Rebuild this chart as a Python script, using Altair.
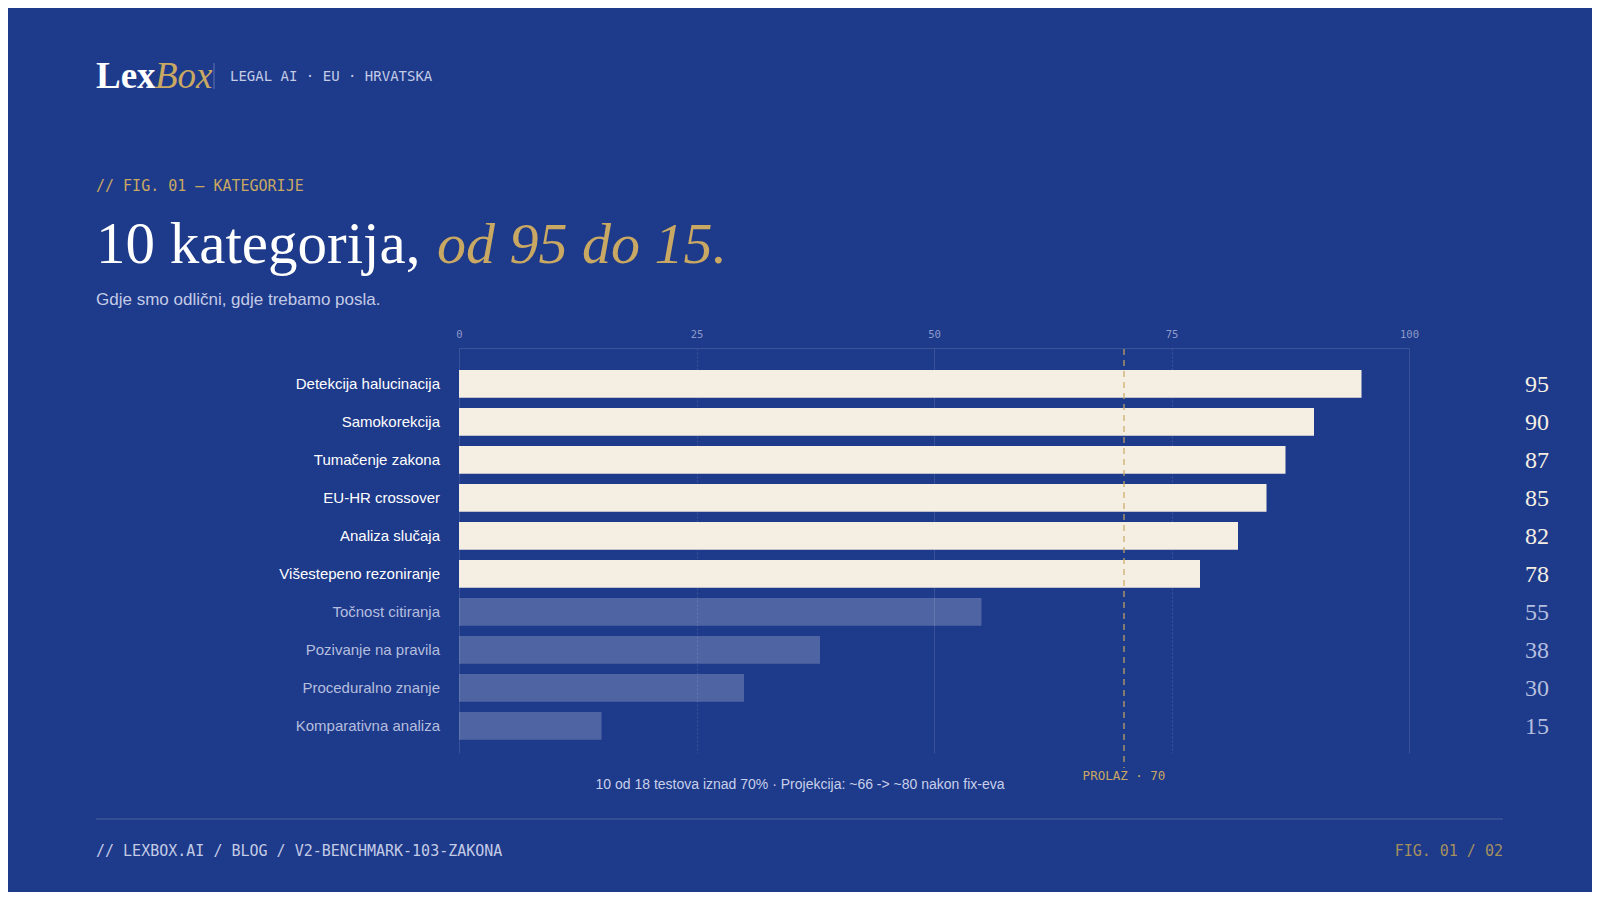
import altair as alt
import pandas as pd

# ---- data ----
categories = [
    "Detekcija halucinacija", "Samokorekcija", "Tumačenje zakona", "EU-HR crossover",
    "Analiza slučaja", "Višestepeno rezoniranje", "Točnost citiranja",
    "Pozivanje na pravila", "Proceduralno znanje", "Komparativna analiza",
]
scores = [95, 90, 87, 85, 82, 78, 55, 38, 30, 15]
pass_mark = 70
axis_ticks = [0, 25, 50, 75, 100]

brand_a = "Lex"
brand_b = "Box"
brand_tag = "LEGAL AI · EU · HRVATSKA"
kicker = "// FIG. 01 — KATEGORIJE"
title_a = "10 kategorija,"
title_b = "od 95 do 15."
subtitle = "Gdje smo odlični, gdje trebamo posla."
caption = "10 od 18 testova iznad 70% · Projekcija: ~66 -> ~80 nakon fix-eva"
pass_label = "PROLAZ · 70"
footer_left = "// LEXBOX.AI / BLOG / V2-BENCHMARK-103-ZAKONA"
footer_right = "FIG. 01 / 02"

# ---- style ----
BG = "#1e3a8a"
CREAM = "#f5efe3"
GOLD = "#c8a862"
FADED = "#b5bedf"
SERIF = "Georgia, 'Liberation Serif', serif"
SANS = "'Helvetica Neue', Helvetica, Arial, 'Liberation Sans', sans-serif"
MONO = "'DejaVu Sans Mono', 'Liberation Mono', monospace"

W, H = 950, 405
OX, OY = 459, 348  # plot origin on page

df = pd.DataFrame({"category": categories, "score": scores})
df["tier"] = ["strong" if s >= pass_mark else "weak" for s in scores]

yscale = alt.Scale(domain=categories, paddingInner=0.27, paddingOuter=0.464, align=0.623)
xscale = alt.Scale(domain=[0, 100], nice=False)

base = alt.Chart(df)

bars = base.mark_bar().encode(
    x=alt.X("score:Q", scale=xscale,
            axis=alt.Axis(orient="top", values=axis_ticks, title=None, ticks=False, tickSize=0,
                          labelPadding=9, labelFont=MONO, labelFontSize=10.5, labelColor="#8e9acb",
                          domain=True, domainColor="#3b5397", domainWidth=1.2,
                          grid=True, gridColor="#ffffff", gridOpacity=0.13, gridWidth=1,
                          gridDash={"condition": {"test": "datum.value % 50 != 0", "value": [2, 2]},
                                    "value": [1, 0]},
                          labelFlush=False)),
    y=alt.Y("category:N", scale=yscale, sort=categories, axis=None),
    color=alt.Color("tier:N", scale=alt.Scale(domain=["strong", "weak"], range=[CREAM, "#ffffff"]),
                    legend=None),
    opacity=alt.condition(alt.datum.tier == "strong", alt.value(1.0), alt.value(0.22)),
)

threshold = alt.Chart(pd.DataFrame({"v": [pass_mark]})).mark_rule(
    color=GOLD, strokeDash=[6, 5], strokeWidth=1.6, opacity=0.75
).encode(x=alt.X("v:Q", scale=xscale), y=alt.value(1), y2=alt.value(420))

pass_text = alt.Chart(pd.DataFrame({"v": [pass_mark], "t": [pass_label]})).mark_text(
    font=MONO, fontSize=12.5, color=GOLD, align="center", baseline="middle"
).encode(x=alt.X("v:Q", scale=xscale), y=alt.value(428), text="t:N")

cat_labels = base.mark_text(align="right", baseline="middle", font=SANS, fontSize=15).encode(
    y=alt.Y("category:N", scale=yscale, sort=categories),
    x=alt.value(-19),
    text="category:N",
    color=alt.Color("tier:N", scale=alt.Scale(domain=["strong", "weak"], range=["#ffffff", FADED]),
                    legend=None),
)

val_labels = base.mark_text(align="left", baseline="middle", font=SERIF, fontSize=24, dy=1).encode(
    y=alt.Y("category:N", scale=yscale, sort=categories),
    x=alt.value(1066),
    text="score:Q",
    color=alt.Color("tier:N", scale=alt.Scale(domain=["strong", "weak"], range=[CREAM, FADED]),
                    legend=None),
)


def txt(s, px, py, **kw):
    return alt.Chart(pd.DataFrame({"t": [s]})).mark_text(**kw).encode(
        x=alt.value(px - OX), y=alt.value(py - OY), text="t:N"
    )


brand1 = txt(brand_a, 96, 88, font=SERIF, fontSize=37, color="#ffffff", align="left", baseline="alphabetic",
             fontWeight=600)
brand2 = txt(brand_b, 155, 88, font=SERIF, fontSize=37, fontStyle="italic", color=GOLD, align="left",
             baseline="alphabetic")
brand_bar = alt.Chart(pd.DataFrame({"a": [0]})).mark_rule(color="#8e9acb", strokeWidth=1, opacity=0.6).encode(
    x=alt.value(214 - OX), y=alt.value(63 - OY), y2=alt.value(89 - OY))
tag = txt(brand_tag, 230, 77, font=MONO, fontSize=14, color="#c3cbe6", align="left", baseline="middle")
kick = txt(kicker, 96, 186, font=MONO, fontSize=15, color=GOLD, align="left", baseline="middle")
t1 = txt(title_a, 96, 263, font=SERIF, fontSize=59, color="#ffffff", align="left", baseline="alphabetic")
t2 = txt(title_b, 437, 263, font=SERIF, fontSize=58, fontStyle="italic", color=GOLD, align="left",
         baseline="alphabetic")
sub = txt(subtitle, 96, 300, font=SANS, fontSize=17, color="#c3cbe6", align="left", baseline="middle")
cap = txt(caption, 800, 785, font=SANS, fontSize=14, color="#c8d0ea", align="center", baseline="middle")
foot_line = alt.Chart(pd.DataFrame({"a": [0]})).mark_rule(color="#ffffff", opacity=0.1, strokeWidth=2).encode(
    x=alt.value(96 - OX), x2=alt.value(1503 - OX), y=alt.value(819 - OY))
fl = txt(footer_left, 96, 851, font=MONO, fontSize=15, color="#c3cbe6", align="left", baseline="middle")
fr = txt(footer_right, 1503, 851, font=MONO, fontSize=15, color="#a3905f", align="right", baseline="middle")

chart = alt.layer(
    bars, threshold, pass_text, cat_labels, val_labels,
    brand1, brand2, brand_bar, tag, kick, t1, t2, sub, cap, foot_line, fl, fr,
).resolve_scale(color="independent").properties(
    width=W, height=H,
    autosize=alt.AutoSizeParams(type="none"),
    padding={"left": OX - 8, "top": OY - 8, "right": 1600 - 16 - OX - W + 8, "bottom": 900 - 16 - OY - H + 8},
    background=BG,
).configure_view(strokeWidth=0)

chart.save("out.html", embed_options={"renderer": "svg", "actions": False})
